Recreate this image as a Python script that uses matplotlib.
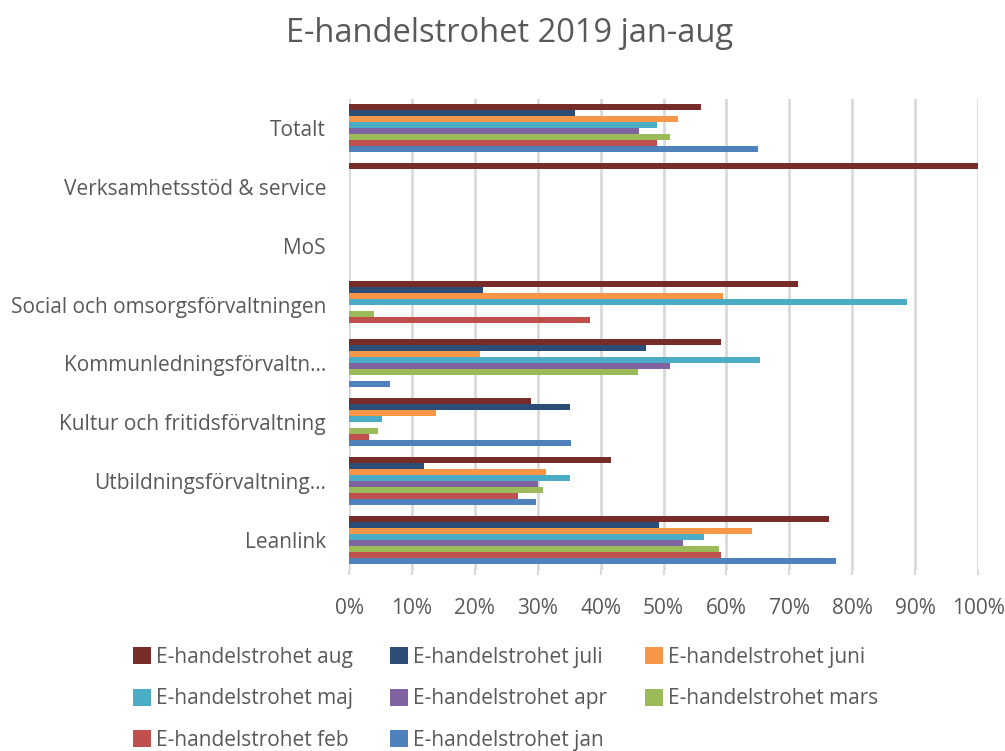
import numpy as np
import matplotlib.pyplot as plt
from matplotlib.ticker import PercentFormatter

plt.rcParams['font.family'] = ['Open Sans', 'DejaVu Sans']

# categories, bottom to top as drawn
categories = ["Leanlink", "Utbildningsförvaltning...", "Kultur och fritidsförvaltning",
              "Kommunledningsförvaltn...", "Social och omsorgsförvaltningen", "MoS",
              "Verksamhetsstöd & service", "Totalt"]

# values in %, same order as categories (nan = no bar)
aug  = [76.3, 41.7, 28.9, 59.1, 71.4, np.nan, 100.0, 56.0]
juli = [49.3, 11.9, 35.1, 47.2, 21.3, np.nan, np.nan, 35.9]
juni = [64.1, 31.3, 13.8, 20.8, 59.5, np.nan, np.nan, 52.3]
maj  = [56.4, 35.1, 5.2, 65.3, 88.7, np.nan, np.nan, 49.0]
apr  = [53.1, 30.0, np.nan, 51.0, np.nan, np.nan, np.nan, 46.1]
mars = [58.8, 30.8, 4.6, 45.9, 4.0, np.nan, np.nan, 51.0]
feb  = [59.1, 26.9, 3.2, np.nan, 38.3, np.nan, np.nan, 49.0]
jan  = [77.4, 29.7, 35.3, 6.5, np.nan, np.nan, np.nan, 65.0]

series_names = ["E-handelstrohet aug", "E-handelstrohet juli", "E-handelstrohet juni",
                "E-handelstrohet maj", "E-handelstrohet apr", "E-handelstrohet mars",
                "E-handelstrohet feb", "E-handelstrohet jan"]
series_vals = [aug, juli, juni, maj, apr, mars, feb, jan]
colors = ["#772C2A", "#2C4D75", "#F79646", "#4BACC6", "#8064A2", "#9BBB59", "#C0504D", "#4F81BD"]

txt = "#595959"
fig = plt.figure(figsize=(10.05, 7.51), dpi=100)
ax = fig.add_axes([349/1005, 1 - 569.5/751, 629/1005, 471/751])

y = np.arange(len(categories))
h = 0.102
n = len(series_vals)
handles = []
for i, (name, vals, c) in enumerate(zip(series_names, series_vals, colors)):
    # aug on top of each group, jan at the bottom
    off = (n - 1 - i - (n - 1) / 2) * h
    b = ax.barh(y + off, vals, height=h, color=c, label=name, zorder=3)
    handles.append(b)

ax.set_xlim(0, 100)
ax.set_ylim(-0.5, len(categories) - 0.5)
ax.set_xticks(np.arange(0, 101, 10))
ax.xaxis.set_major_formatter(PercentFormatter(decimals=0))
ax.set_yticks(y)
ax.set_yticklabels(categories)
ax.grid(axis='x', color='#d9d9d9', linewidth=2, zorder=0)
for s in ax.spines.values():
    s.set_visible(False)
ax.tick_params(axis='x', colors='#d9d9d9', length=3.6, width=1.5, pad=17, labelcolor=txt, labelsize=15)
ax.tick_params(axis='y', length=0, pad=16.5, labelcolor=txt, labelsize=15)

fig.suptitle("E-handelstrohet 2019 jan-aug", x=0.507, y=0.978, fontsize=23.5, color=txt)

# legend: three columns, filled column by column
order = [0, 3, 6, 1, 4, 7, 2, 5]
fig.legend([handles[k] for k in order], [series_names[k] for k in order],
           ncol=3, loc='upper left', bbox_to_anchor=(133/1005, 1 - 647/751),
           frameon=False, fontsize=15, labelcolor=txt,
           handlelength=0.85, handleheight=0.85, handletextpad=0.25,
           columnspacing=1.8, labelspacing=0.98, borderaxespad=0, borderpad=0)

fig.savefig("out.png", dpi=100)
